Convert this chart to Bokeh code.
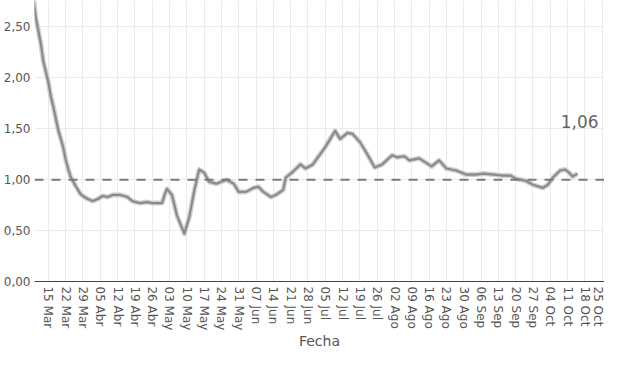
import math
import pandas as pd
from bokeh.plotting import figure
from bokeh.models import FixedTicker, CustomJSTickFormatter, Span, Label, Range1d
from bokeh.embed import file_html
from bokeh.resources import INLINE

dates = ["2020-03-09", "2020-03-10", "2020-03-11", "2020-03-12", "2020-03-13", "2020-03-15",
         "2020-03-16", "2020-03-17", "2020-03-19", "2020-03-21", "2020-03-22", "2020-03-23",
         "2020-03-24", "2020-03-26", "2020-03-28", "2020-03-29", "2020-03-31", "2020-04-02",
         "2020-04-04", "2020-04-06", "2020-04-08", "2020-04-10", "2020-04-13", "2020-04-16",
         "2020-04-18", "2020-04-21", "2020-04-24", "2020-04-26", "2020-04-30", "2020-05-01",
         "2020-05-02", "2020-05-04", "2020-05-06", "2020-05-09", "2020-05-11", "2020-05-13",
         "2020-05-15", "2020-05-17", "2020-05-19", "2020-05-22", "2020-05-24", "2020-05-26",
         "2020-05-29", "2020-05-31", "2020-06-03", "2020-06-06", "2020-06-08", "2020-06-10",
         "2020-06-13", "2020-06-15", "2020-06-18", "2020-06-19", "2020-06-22", "2020-06-25",
         "2020-06-27", "2020-06-30", "2020-07-02", "2020-07-05", "2020-07-08", "2020-07-09",
         "2020-07-11", "2020-07-14", "2020-07-16", "2020-07-19", "2020-07-22", "2020-07-25",
         "2020-07-28", "2020-08-01", "2020-08-03", "2020-08-06", "2020-08-08", "2020-08-12",
         "2020-08-17", "2020-08-20", "2020-08-23", "2020-08-27", "2020-08-31", "2020-09-04",
         "2020-09-07", "2020-09-11", "2020-09-15", "2020-09-18", "2020-09-20", "2020-09-24",
         "2020-09-27", "2020-10-01", "2020-10-03", "2020-10-05", "2020-10-08", "2020-10-10",
         "2020-10-12", "2020-10-13", "2020-10-15"]
rt = [2.78, 2.58, 2.46, 2.33, 2.16, 1.96,
      1.82, 1.72, 1.49, 1.32, 1.20, 1.11,
      1.03, 0.94, 0.86, 0.84, 0.81, 0.79,
      0.81, 0.84, 0.83, 0.85, 0.85, 0.83,
      0.79, 0.77, 0.78, 0.77, 0.77, 0.85,
      0.91, 0.85, 0.65, 0.47, 0.63, 0.89,
      1.10, 1.07, 0.98, 0.96, 0.98, 1.00,
      0.96, 0.88, 0.88, 0.92, 0.93, 0.88,
      0.83, 0.85, 0.90, 1.02, 1.08, 1.15,
      1.11, 1.15, 1.22, 1.32, 1.44, 1.48,
      1.40, 1.46, 1.45, 1.37, 1.25, 1.12,
      1.15, 1.24, 1.22, 1.23, 1.19, 1.21,
      1.13, 1.19, 1.11, 1.09, 1.05, 1.05,
      1.06, 1.05, 1.04, 1.04, 1.01, 0.99,
      0.95, 0.92, 0.95, 1.02, 1.09, 1.10,
      1.06, 1.03, 1.06]

tick_dates = ["2020-03-15", "2020-03-22", "2020-03-29", "2020-04-05", "2020-04-12", "2020-04-19",
              "2020-04-26", "2020-05-03", "2020-05-10", "2020-05-17", "2020-05-24", "2020-05-31",
              "2020-06-07", "2020-06-14", "2020-06-21", "2020-06-28", "2020-07-05", "2020-07-12",
              "2020-07-19", "2020-07-26", "2020-08-02", "2020-08-09", "2020-08-16", "2020-08-23",
              "2020-08-30", "2020-09-06", "2020-09-13", "2020-09-20", "2020-09-27", "2020-10-04",
              "2020-10-11", "2020-10-18", "2020-10-25"]
tick_labels = ["15 Mar", "22 Mar", "29 Mar", "05 Abr", "12 Abr", "19 Abr", "26 Abr", "03 May",
               "10 May", "17 May", "24 May", "31 May", "07 Jun", "14 Jun", "21 Jun", "28 Jun",
               "05 Jul", "12 Jul", "19 Jul", "26 Jul", "02 Ago", "09 Ago", "16 Ago", "23 Ago",
               "30 Ago", "06 Sep", "13 Sep", "20 Sep", "27 Sep", "04 Oct", "11 Oct", "18 Oct",
               "25 Oct"]
y_ticks = [0.0, 0.5, 1.0, 1.5, 2.0, 2.5]
y_tick_labels = ["0,00", "0,50", "1,00", "1,50", "2,00", "2,50"]
last_label = "1,06"
threshold = 1.0

x = pd.to_datetime(dates)
tick_ms = [float(pd.Timestamp(d).value // 10**6) for d in tick_dates]
x_start = pd.Timestamp("2020-03-09 10:00")
x_end = pd.Timestamp("2020-10-25 22:00")

FONT = "DejaVu Sans"

p = figure(width=604, height=352, output_backend="svg", toolbar_location=None,
           x_axis_type="datetime",
           x_range=Range1d(x_start, x_end), y_range=Range1d(0, 2.76),
           min_border_left=31, min_border_right=0, min_border_top=0, min_border_bottom=0)
p.outline_line_color = None
p.background_fill_color = "white"

# band + line
p.line(x, rt, line_color="#d0d0d0", line_width=5, line_join="round")
p.line(x, rt, line_color="#8a8a8a", line_width=2.2, line_join="round")

p.add_layout(Span(location=threshold, dimension="width", line_color="#7a7a7a",
                  line_width=2, line_dash="9 8"))

p.add_layout(Label(x=pd.Timestamp("2020-10-23 12:00"), y=1.575, text=last_label,
                   text_align="right", text_baseline="middle", text_font=FONT,
                   text_font_size="17px", text_color="#666666"))

# x axis
p.xaxis.ticker = FixedTicker(ticks=tick_ms)
p.xaxis.formatter = CustomJSTickFormatter(args=dict(tvals=tick_ms, tlabels=tick_labels),
                                          code="const i = tvals.indexOf(tick); return i >= 0 ? tlabels[i] : '';")
p.xaxis.major_label_orientation = -math.pi / 2
p.xaxis.major_label_text_font = FONT
p.xaxis.major_label_text_font_size = "12px"
p.xaxis.major_label_text_color = "#555555"
p.xaxis.major_label_standoff = 5
p.xaxis.major_tick_out = 0
p.xaxis.major_tick_in = 0
p.xaxis.minor_tick_out = 0
p.xaxis.minor_tick_in = 0
p.xaxis.axis_line_color = "#444444"
p.xaxis.axis_line_width = 1
p.xaxis.axis_label = "Fecha"
p.xaxis.axis_label_text_font = FONT
p.xaxis.axis_label_text_font_size = "14px"
p.xaxis.axis_label_text_font_style = "normal"
p.xaxis.axis_label_text_color = "#555555"
p.xaxis.axis_label_standoff = 0

# y axis
p.yaxis.ticker = FixedTicker(ticks=y_ticks)
p.yaxis.major_label_overrides = {t: l for t, l in zip(y_ticks, y_tick_labels)}
p.yaxis.major_label_text_font = FONT
p.yaxis.major_label_text_font_size = "12px"
p.yaxis.major_label_text_color = "#555555"
p.yaxis.major_label_standoff = 4
p.yaxis.axis_line_color = None
p.yaxis.major_tick_out = 0
p.yaxis.major_tick_in = 0
p.yaxis.minor_tick_out = 0
p.yaxis.minor_tick_in = 0

p.xgrid.grid_line_color = "#ebebeb"
p.ygrid.grid_line_color = "#ebebeb"

open("out.html", "w").write(file_html(p, INLINE))
